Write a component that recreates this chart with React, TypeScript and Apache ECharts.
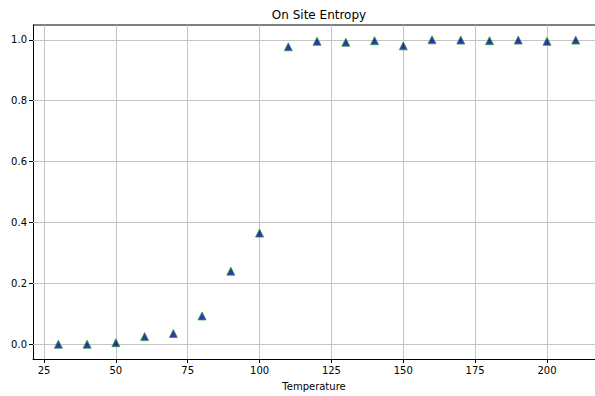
import React, { useEffect, useRef } from "react";
import * as echarts from "echarts";

const temperatures = [30, 40, 50, 60, 70, 80, 90, 100, 110, 120, 130, 140, 150, 160, 170, 180, 190, 200, 210];
const entropy = [0.0, 0.0, 0.005, 0.025, 0.035, 0.093, 0.24, 0.365, 0.977, 0.995, 0.992, 0.997, 0.98, 1.0, 0.999, 0.997, 0.999, 0.995, 0.999];
const xTicks = [25, 50, 75, 100, 125, 150, 175, 200];
const yTicks = [0.0, 0.2, 0.4, 0.6, 0.8, 1.0];
const chartTitle = "On Site Entropy";

const FONT = "DejaVu Sans";

export default function App() {
  const ref = useRef<HTMLDivElement>(null);
  useEffect(() => {
    if (!ref.current) return;
    const chart = echarts.init(ref.current, null, { renderer: "svg" });
    const gridLineStyle = { color: "#c4c4c4", width: 1, type: "solid" as const };
    chart.setOption({
      animation: false,
      backgroundColor: "#ffffff",
      grid: { left: 33, right: 0, top: 25, bottom: 32, containLabel: false },
      xAxis: {
        type: "value",
        min: 21.17,
        max: 216.7,
        name: "Temperature",
        nameLocation: "middle",
        nameGap: 22,
        nameTextStyle: { fontFamily: FONT, fontSize: 10, color: "#000", verticalAlign: "top" },
        axisLine: { show: true, onZero: false, lineStyle: { color: "#000", width: 1 } },
        axisTick: { show: true, length: 4, customValues: xTicks, lineStyle: { color: "#000" } },
        axisLabel: { customValues: xTicks, fontFamily: FONT, fontSize: 10, color: "#000", margin: 6 },
        splitLine: { show: false },
      },
      yAxis: {
        type: "value",
        min: -0.0485,
        max: 1.0485,
        axisLine: { show: true, onZero: false, lineStyle: { color: "#000", width: 1 } },
        axisTick: { show: true, length: 4, customValues: yTicks, lineStyle: { color: "#000" } },
        axisLabel: {
          customValues: yTicks,
          fontFamily: FONT,
          fontSize: 10,
          color: "#000",
          margin: 6,
          formatter: (v: number) => v.toFixed(1),
        },
        splitLine: { show: false },
      },
      graphic: [
        {
          type: "line",
          shape: { x1: 33, y1: 25, x2: 595, y2: 25 },
          style: { stroke: "#000", lineWidth: 1 },
        },
        {
          type: "text",
          x: 319,
          y: 9,
          style: {
            text: chartTitle,
            fill: "#000",
            font: `12px "${FONT}"`,
            textAlign: "center",
            textVerticalAlign: "top",
          },
        },
      ],
      series: [
        {
          type: "line",
          data: [],
          silent: true,
          markLine: {
            silent: true,
            symbol: "none",
            label: { show: false },
            lineStyle: gridLineStyle,
            data: [
              ...xTicks.map((v) => ({ xAxis: v })),
              ...yTicks.map((v) => ({ yAxis: v })),
            ],
          },
        },
        {
          type: "scatter",
          data: temperatures.map((t, i) => [t, entropy[i]]),
          symbol: "triangle",
          symbolSize: 8,
          itemStyle: { color: "#0000a8", borderColor: "#2ca02c", borderWidth: 1 },
          z: 5,
        },
      ],
    });
    return () => chart.dispose();
  }, []);
  return <div ref={ref} style={{ width: 595, height: 396, position: "absolute", left: 0, top: 0 }} />;
}
